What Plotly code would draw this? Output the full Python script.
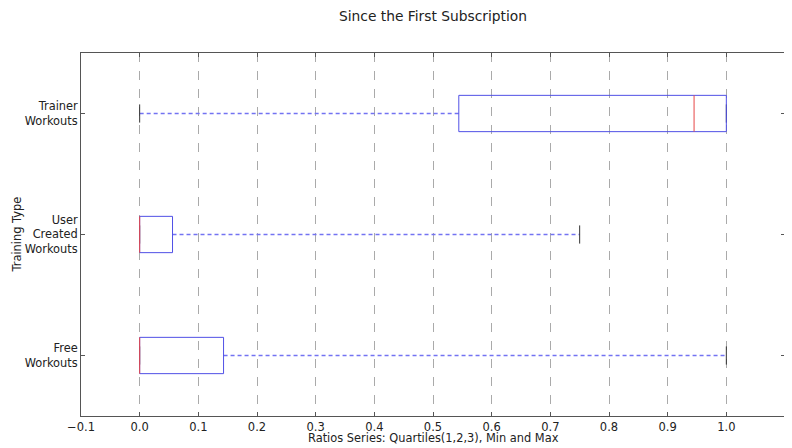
import plotly.graph_objects as go

categories = ["Free<br>Workouts", "User<br>Created<br>Workouts", "Trainer<br>Workouts"]
positions = [1, 2, 3]
mins = [0.0, 0.0, 0.0]
q1s = [0.0, 0.0, 0.544]
medians = [0.0, 0.0, 0.945]
q3s = [0.143, 0.056, 1.0]
maxs = [1.0, 0.75, 1.0]
x_ticks = [-0.1, 0.0, 0.1, 0.2, 0.3, 0.4, 0.5, 0.6, 0.7, 0.8, 0.9, 1.0, 1.1]

box_half = 0.15
cap_half = 0.075

fig = go.Figure()
# whiskers (one trace per segment, drawn before everything else)
for p, mn, a, b, mx in zip(positions, mins, q1s, q3s, maxs):
    for x0, x1 in ((mn, a), (b, mx)):
        if x1 > x0:
            fig.add_trace(go.Scatter(x=[x0, x1], y=[p, p], mode="lines",
                                     line=dict(color="rgb(115,115,242)", width=1.4, dash="4px,3px"),
                                     hoverinfo="skip", showlegend=False))
for p, mn, a, m, b, mx in zip(positions, mins, q1s, medians, q3s, maxs):
    fig.add_trace(go.Scatter(x=[mn, mn, None, mx, mx],
                             y=[p - cap_half, p + cap_half, None, p - cap_half, p + cap_half],
                             mode="lines", line=dict(color="#333333", width=1),
                             hoverinfo="skip", showlegend=False))
    fig.add_trace(go.Scatter(x=[a, b, b, a, a],
                             y=[p - box_half, p - box_half, p + box_half, p + box_half, p - box_half],
                             mode="lines", line=dict(color="rgb(80,80,230)", width=1),
                             hoverinfo="skip", showlegend=False))
    fig.add_trace(go.Scatter(x=[m, m], y=[p - box_half, p + box_half], mode="lines",
                             line=dict(color="rgb(230,70,70)", width=1),
                             hoverinfo="skip", showlegend=False))

# page body has an 8px margin, so the figure is sized and offset to fit the 792x448 window
W, H = 784, 440
L, T = 73, 45
pw, ph = 704, 363
R, B = W - L - pw, H - T - ph
txt = dict(family="DejaVu Sans", size=11.4, color="#222222")
fig.update_layout(
    width=W, height=H,
    margin=dict(l=L, r=R, t=T, b=B, autoexpand=False),
    paper_bgcolor="white", plot_bgcolor="white",
    font=txt,
    title=dict(text="Since the First Subscription", x=(L + pw / 2) / W, xanchor="center",
               y=1 - 8 / H, yanchor="middle", font=dict(family="DejaVu Sans", size=13.8, color="#222222")),
    showlegend=False,
    annotations=[
        dict(text="Ratios Series: Quartiles(1,2,3), Min and Max", xref="paper", yref="paper",
             x=0.5, y=-22.5 / ph, xanchor="center", yanchor="middle", showarrow=False, font=txt),
        dict(text="Training Type", xref="paper", yref="paper", textangle=-90,
             x=-65 / pw, y=0.5, xanchor="center", yanchor="middle", showarrow=False, font=txt),
    ],
)
fig.update_xaxes(
    range=[-0.1, 1.1], tickvals=x_ticks, ticktext=[f"{v:.1f}".replace("-", "\u2212") for v in x_ticks],
    tickfont=dict(family="DejaVu Sans", size=11.5, color="#222222"),
    showgrid=True, gridcolor="#aaaaaa", griddash="dash", gridwidth=1,
    zeroline=False, showline=True, linecolor="#555555", linewidth=1, mirror="ticks",
    ticks="inside", ticklen=4, tickcolor="#555555", automargin=False,
)
fig.update_yaxes(
    range=[0.5, 3.5], tickvals=positions, ticktext=categories,
    tickfont=txt,
    showgrid=False, zeroline=False, showline=True, linecolor="#555555", linewidth=1, mirror="ticks",
    ticks="inside", ticklen=4, tickcolor="#555555", automargin=False,
)
fig.write_html("out.html")
